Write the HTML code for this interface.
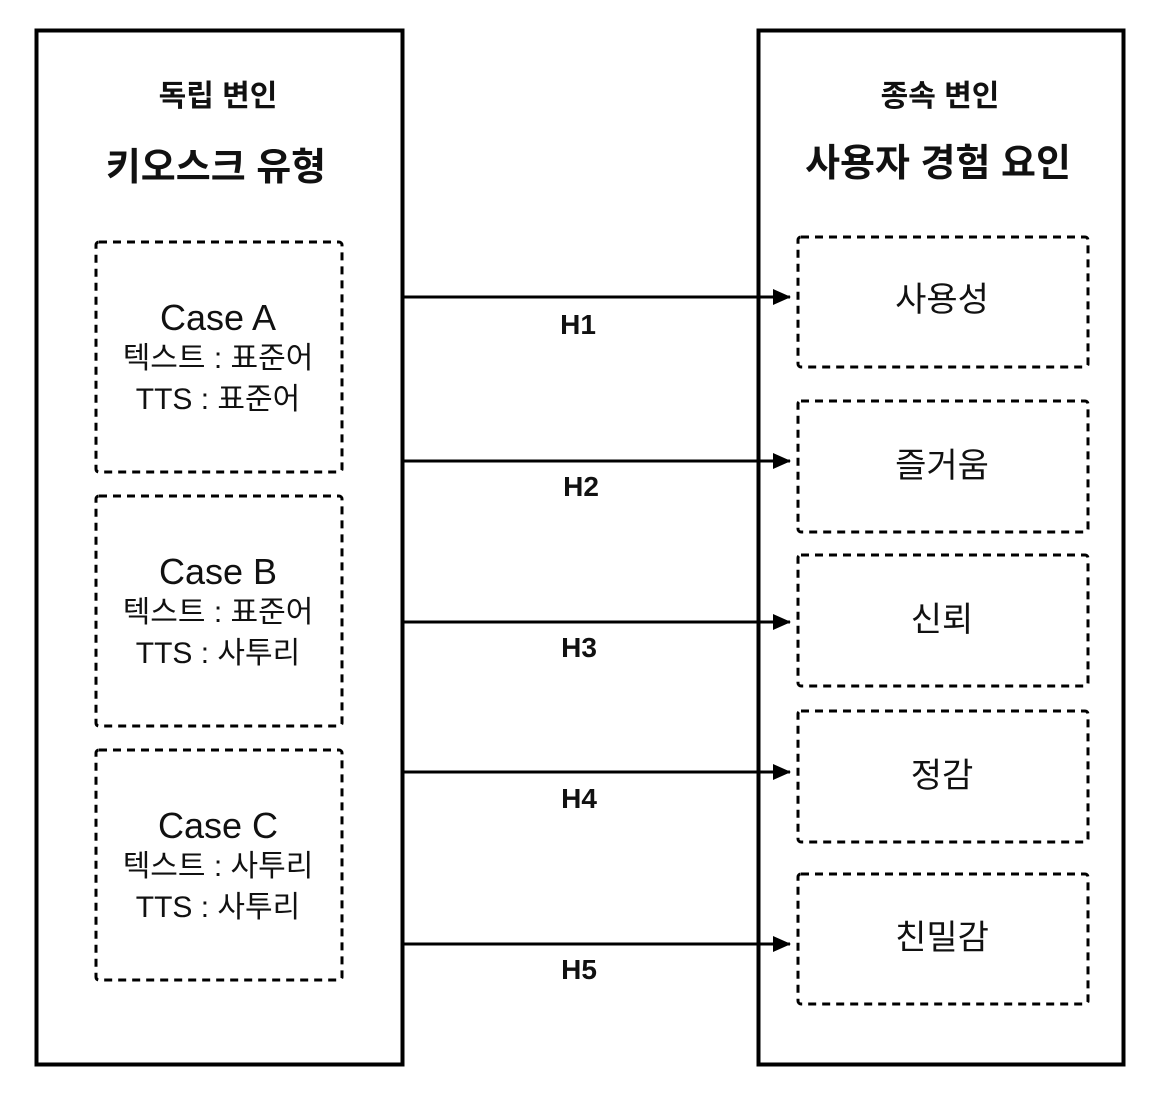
<!DOCTYPE html>
<html><head><meta charset="utf-8"><style>
html,body{margin:0;padding:0;background:#fff;}
svg{display:block;}
text{font-family:"Liberation Sans","Noto Sans CJK KR",sans-serif;fill:#111;text-anchor:middle;}
.b{font-weight:bold;}
</style></head><body>
<svg width="1160" height="1100" viewBox="0 0 1160 1100" xmlns="http://www.w3.org/2000/svg">
<defs><marker id="ah" markerWidth="18" markerHeight="16" refX="17" refY="8" orient="auto" markerUnits="userSpaceOnUse"><path d="M0,0 L18,8 L0,16 Z" fill="#000"/></marker></defs>
<rect x="36.5" y="30.5" width="366" height="1034" fill="none" stroke="#000" stroke-width="4"/>
<rect x="758.5" y="30.5" width="365" height="1034" fill="none" stroke="#000" stroke-width="4"/>
<text x="218" y="106" font-size="30" class="b">독립 변인</text>
<text x="216" y="180" font-size="38" class="b">키오스크 유형</text>
<text x="940" y="106" font-size="30" class="b">종속 변인</text>
<text x="938" y="176" font-size="38" class="b">사용자 경험 요인</text>
<g fill="none" stroke="#000" stroke-width="3" stroke-dasharray="8,6">
<rect x="96" y="242" width="246" height="230" rx="3"/>
<rect x="96" y="496" width="246" height="230" rx="3"/>
<rect x="96" y="750" width="246" height="230" rx="3"/>
<rect x="798" y="237" width="290" height="130" rx="3"/>
<rect x="798" y="401" width="290" height="131" rx="3"/>
<rect x="798" y="555" width="290" height="131" rx="3"/>
<rect x="798" y="711" width="290" height="131" rx="3"/>
<rect x="798" y="874" width="290" height="130" rx="3"/>
</g>
<g font-size="36"><text x="218" y="330">Case A</text><text x="218" y="584">Case B</text><text x="218" y="838">Case C</text></g>
<g font-size="30">
<text x="218" y="368">텍스트 : 표준어</text><text x="218" y="409">TTS : 표준어</text>
<text x="218" y="622">텍스트 : 표준어</text><text x="218" y="663">TTS : 사투리</text>
<text x="218" y="876">텍스트 : 사투리</text><text x="218" y="917">TTS : 사투리</text>
</g>
<g font-size="34"><text x="942" y="311">사용성</text><text x="942" y="477">즐거움</text><text x="942" y="631">신뢰</text><text x="942" y="787">정감</text><text x="942" y="949">친밀감</text></g>
<g stroke="#000" stroke-width="3" marker-end="url(#ah)">
<line x1="403" y1="297" x2="790" y2="297"/>
<line x1="403" y1="461" x2="790" y2="461"/>
<line x1="403" y1="622" x2="790" y2="622"/>
<line x1="403" y1="772" x2="790" y2="772"/>
<line x1="403" y1="944" x2="790" y2="944"/>
</g>
<g font-size="28" class="b"><text x="578" y="334" class="b">H1</text><text x="581" y="496" class="b">H2</text><text x="579" y="657" class="b">H3</text><text x="579" y="808" class="b">H4</text><text x="579" y="979" class="b">H5</text></g>
</svg>
</body></html>
